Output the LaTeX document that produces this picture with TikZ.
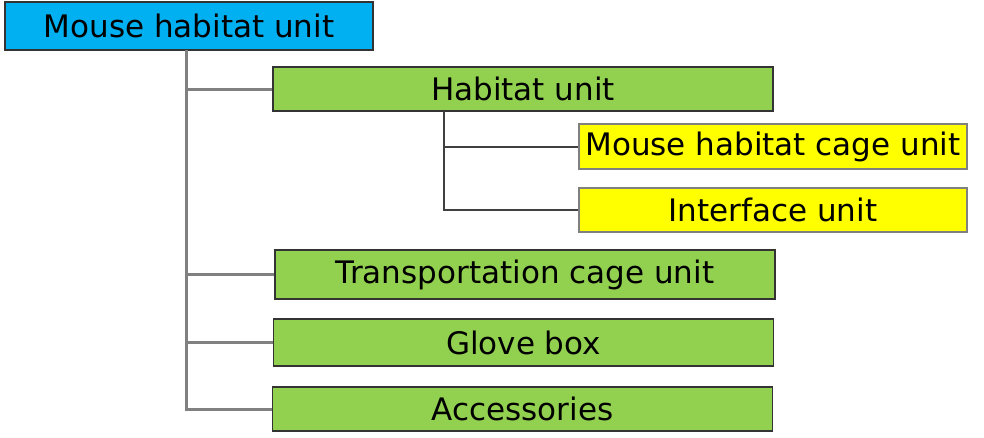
\documentclass[tikz,border=0pt]{standalone}
\usepackage{fontspec}
\setmainfont{DejaVu Sans}
\usetikzlibrary{positioning}
\definecolor{rootblue}{HTML}{00B0F0}
\definecolor{unitgreen}{HTML}{92D050}
\definecolor{partyellow}{HTML}{FFFF00}

\begin{document}
\begin{tikzpicture}[
    x=1pt, y=-1pt,
    font=\fontsize{31}{36}\selectfont,
    box/.style={draw=black!80, line width=1.6pt, inner sep=0pt, minimum height=44pt},
    rootbox/.style={box, fill=rootblue, minimum width=368pt, minimum height=48pt},
    unitbox/.style={box, fill=unitgreen, minimum width=500pt},
    partbox/.style={box, draw=black!50, line width=2pt, fill=partyellow, minimum width=388pt, minimum height=45pt},
    trunk/.style={draw=black!50, line width=3pt},
    branch/.style={draw=black!75, line width=2pt}
]
    \useasboundingbox (0,0) rectangle (984,437);

    % top level
    \node[rootbox] (root) at (189, 26) {Mouse habitat unit};

    % second level
    \node[unitbox] (hab) at (523, 89) {Habitat unit};
    \node[unitbox, minimum height=49pt] (trans) at (525, 274.5) {Transportation cage unit};
    \node[unitbox, minimum height=47pt] (glove) at (523.5, 342.5) {Glove box};
    \node[unitbox] (acc) at (522.5, 409) {Accessories};

    % third level
    \node[partbox] (cage) at (773, 146.5) {Mouse habitat cage unit};
    \node[partbox, minimum height=44pt] (iface) at (773, 210) {Interface unit};

    % trunk from the root
    \coordinate (stem) at (186, 50);
    \draw[trunk] (stem) |- (acc.west);
    \foreach \n in {hab, trans, glove}
        \draw[trunk] (stem |- \n.west) -- (\n.west);

    % branch from the habitat unit
    \coordinate (hub) at (444, 111);
    \draw[branch] (hub) |- (iface.west);
    \draw[branch] (hub |- cage.west) -- (cage.west);
\end{tikzpicture}
\end{document}
